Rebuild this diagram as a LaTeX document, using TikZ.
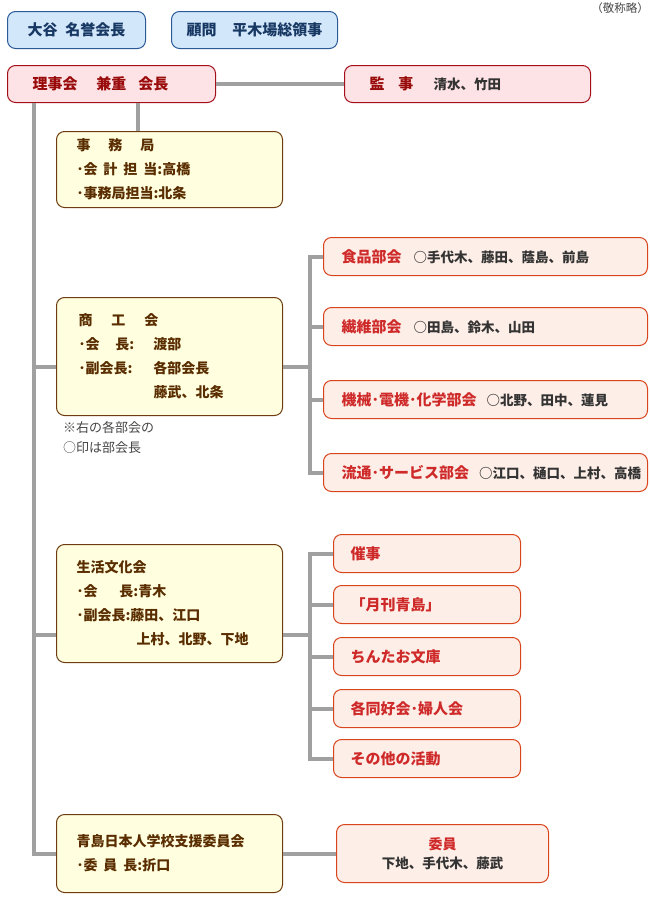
\documentclass[tikz,border=0pt]{standalone}
\usepackage{fontspec}
\setmainfont{Noto Sans CJK JP}
\usetikzlibrary{positioning,calc}

\definecolor{honfill}{HTML}{D3E7FB}
\definecolor{honline}{HTML}{2B5A96}
\definecolor{hontext}{HTML}{173863}
\definecolor{rijifill}{HTML}{FDE3E5}
\definecolor{rijiline}{HTML}{A4101A}
\definecolor{rijitext}{HTML}{990A0A}
\definecolor{kyokufill}{HTML}{FFFFE0}
\definecolor{kyokuline}{HTML}{6E3C10}
\definecolor{kyokutext}{HTML}{5A2D00}
\definecolor{bufill}{HTML}{FDEEE7}
\definecolor{buline}{HTML}{D8441C}
\definecolor{butext}{HTML}{CF2A2A}
\definecolor{meitext}{HTML}{333333}
\definecolor{notetext}{HTML}{454545}
\definecolor{linkgray}{HTML}{A0A0A0}

\newcommand{\mei}[1]{{\color{meitext}\fontsize{13.5}{15}\selectfont #1}}

\begin{document}
\begin{tikzpicture}[x=1pt,y=-1pt]

\tikzset{honbox/.style = {draw=honline, fill=honfill, text=hontext, line width=1pt, rounded corners=8pt, anchor=north west, minimum height=37pt, inner sep=0pt, font=\bfseries\fontsize{15}{18}\selectfont}}
\tikzset{rijibox/.style = {draw=rijiline, fill=rijifill, text=rijitext, line width=1pt, rounded corners=8pt, anchor=north west, minimum height=37pt, inner sep=0pt, align=left, font=\bfseries\fontsize{15}{18}\selectfont}}
\tikzset{kyokubox/.style = {draw=kyokuline, fill=kyokufill, text=kyokutext, line width=1pt, rounded corners=8pt, anchor=north west, minimum width=226pt, inner sep=0pt, inner xsep=20pt, text width=186pt, align=left, font=\bfseries\fontsize{14}{24}\selectfont}}
\tikzset{bubox/.style = {draw=buline, fill=bufill, text=butext, line width=1pt, rounded corners=8pt, anchor=north west, minimum height=38pt, inner sep=0pt, align=left, font=\bfseries\fontsize{15}{18}\selectfont}}
\tikzset{bukai/.style = {bubox, minimum width=324pt, inner xsep=18pt, text width=288pt}}
\tikzset{gyoji/.style = {bubox, minimum width=187pt, inner xsep=17pt, text width=153pt}}
\tikzset{note/.style = {text=notetext, inner sep=0pt, align=left}}
\tikzset{linkline/.style = {draw=linkgray, line width=4pt}}

\useasboundingbox (0,0) rectangle (650,905);

% top
\node[honbox, minimum width=138pt] (meiyo) at (7,11) {大谷\hspace{8pt}名誉会長};
\node[honbox, minimum width=166pt] (komon) at (171,11) {顧問\hspace{16pt}平木場総領事};
\node[note, anchor=north east, font=\fontsize{11.5}{13}\selectfont] (keisho) at (649,2) {（敬称略）};

\node[rijibox, minimum width=208pt, text width=158pt, inner xsep=25pt] (riji) at (7,65) {理事会\hspace{19pt}兼重\hspace{12pt}会長};
\node[rijibox, minimum width=246pt, text width=196pt, inner xsep=25pt] (kanji) at (344,65) {監\hspace{14pt}事\hspace{20pt}\mei{清水、竹田}};

% left column
\node[kyokubox, minimum height=76pt] (jimu) at (56,131) {事\hspace{18pt}務\hspace{18pt}局\\
  ･会\hspace{6pt}計\hspace{6pt}担\hspace{6pt}当:高橋\\
  ･事務局担当:北条};
\node[kyokubox, minimum height=118pt, inner xsep=22pt, text width=182pt] (shoko) at (56,297) {商\hspace{19pt}工\hspace{19pt}会\\
  \makebox[75pt][l]{･会\hspace{16pt}長:}渡部\\
  \makebox[75pt][l]{･副会長:}各部会長\\
  \hspace*{75pt}藤武、北条};
\node[note, anchor=north west, font=\fontsize{13}{20}\selectfont] (chui) at (63,421) {※右の各部会の\\○印は部会長};
\node[kyokubox, minimum height=118pt] (seikatsu) at (56,544) {生活文化会\\
  ･会\hspace{22pt}長:青木\\
  ･副会長:藤田、江口\\
  \hspace*{60pt}上村、北野、下地};
\node[kyokubox, minimum height=78pt] (shien) at (56,814) {青島日本人学校支援委員会\\
  ･委\hspace{6pt}員\hspace{6pt}長:折口};

% bukai
\node[bukai] (shokuhin) at (323,237) {\makebox[288pt][l]{食品部会\hspace{12pt}\mei{○手代木、藤田、蔭島、前島}}};
\node[bukai] (seni) at (323,307) {\makebox[288pt][l]{繊維部会\hspace{12pt}\mei{○田島、鈴木、山田}}};
\node[bukai] (kikai) at (323,380) {\makebox[288pt][l]{機械･電機･化学部会\hspace{10pt}\mei{○北野、田中、蓮見}}};
\node[bukai] (ryutsu) at (323,453) {\makebox[288pt][l]{流通･サービス部会\hspace{10pt}\mei{○江口、樋口、上村、高橋}}};

% gyoji
\node[gyoji] (saiji) at (333,534) {催事};
\node[gyoji] (gekkan) at (333,585) {「月刊青島」};
\node[gyoji] (bunko) at (333,637) {ちんたお文庫};
\node[gyoji] (dokokai) at (333,689) {各同好会･婦人会};
\node[gyoji] (sonota) at (333,739) {その他の活動};

\node[bubox, minimum width=212pt, minimum height=58pt, text width=212pt, align=center, font=\bfseries\fontsize{14}{19}\selectfont] (iin) at (336,824) {委員\\\mei{下地、手代木、藤武}};

% edges
\draw[linkline] (riji.east) -- (kanji.west);
\coordinate (rijiB) at ([xshift=131pt]riji.south west);
\draw[linkline] (rijiB) -- (rijiB |- jimu.north);
\coordinate (trunk) at ([xshift=27pt]riji.south west);
\draw[linkline] (trunk) |- (shien.west);

\coordinate (shokoL) at ([yshift=-10pt]shoko.west);
\coordinate (shokoR) at ([yshift=-10pt]shoko.east);
\coordinate (buSplit) at ([xshift=27pt]shokoR);
\draw[linkline] (shokoL) -- (shokoL -| trunk);
\draw[linkline] (shokoR) -- (buSplit);
\draw[linkline] (shokuhin.west) -- (shokuhin.west -| buSplit) -- (ryutsu.west -| buSplit) -- (ryutsu.west);
\foreach \b in {seni,kikai}
  \draw[linkline] (\b.west) -- (\b.west -| buSplit);

\coordinate (seikL) at ([yshift=-31pt]seikatsu.west);
\coordinate (seikR) at ([yshift=-31pt]seikatsu.east);
\coordinate (gySplit) at ([xshift=27pt]seikR);
\draw[linkline] (seikL) -- (seikL -| trunk);
\draw[linkline] (seikR) -- (gySplit);
\draw[linkline] (saiji.west) -- (saiji.west -| gySplit) -- (sonota.west -| gySplit) -- (sonota.west);
\foreach \g in {gekkan,bunko,dokokai}
  \draw[linkline] (\g.west) -- (\g.west -| gySplit);

\draw[linkline] (shien.east) -- (iin.west);

\end{tikzpicture}
\end{document}
